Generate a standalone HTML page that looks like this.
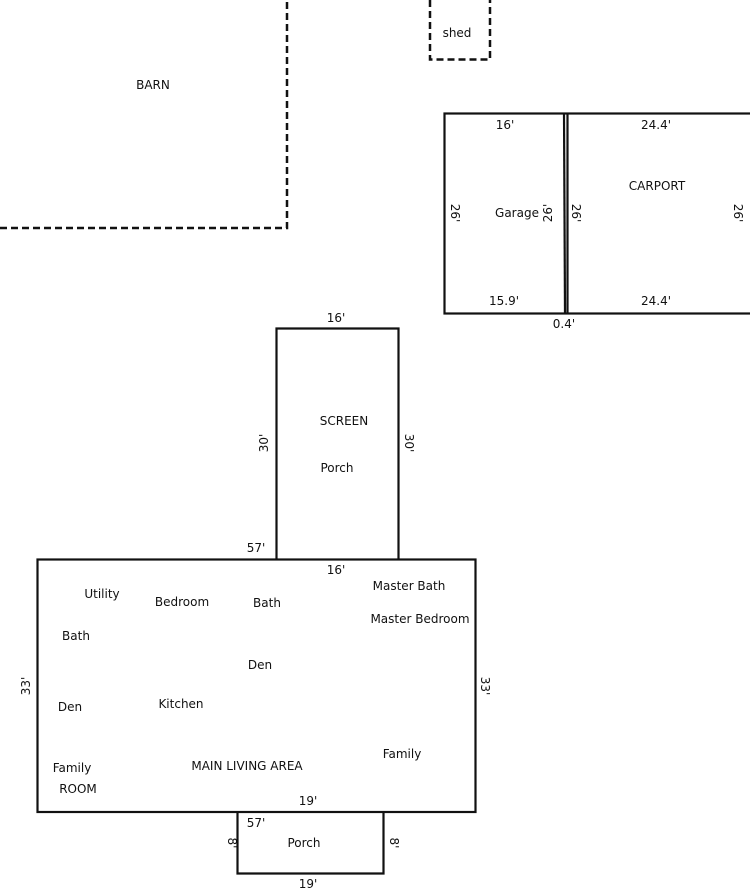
<!DOCTYPE html>
<html><head><meta charset="utf-8"><style>
html,body{margin:0;padding:0;background:#fff;}
svg{display:block;}
text{font-family:"DejaVu Sans","Liberation Sans",sans-serif;font-size:12px;fill:#111;}
</style></head><body>
<svg width="750" height="889" viewBox="0 0 750 889" xmlns="http://www.w3.org/2000/svg">
<g fill="none" stroke="#111" stroke-width="2.5" stroke-dasharray="7,4">
<polyline points="0,228 287,228 287,0"/>
<polyline points="430,0 430,59.5 490,59.5 490,0"/>
</g>
<g fill="none" stroke="#111" stroke-width="2.2">
<rect x="444.5" y="113.5" width="320" height="200"/>
<line x1="564" y1="113" x2="565" y2="313"/>
<line x1="567.5" y1="113" x2="567.5" y2="313"/>
<polyline points="276.5,559 276.5,328.5 398.5,328.5 398.5,559"/>
<rect x="37.5" y="559.5" width="438" height="252.5"/>
<polyline points="237.5,812 237.5,873.5 383.5,873.5 383.5,812"/>
</g>
<text x="153" y="89" text-anchor="middle">BARN</text>
<text x="457" y="37" text-anchor="middle">shed</text>
<text x="505" y="129" text-anchor="middle">16'</text>
<text x="656" y="129" text-anchor="middle">24.4'</text>
<text x="657" y="190" text-anchor="middle">CARPORT</text>
<text x="517" y="217" text-anchor="middle">Garage</text>
<text x="504" y="305" text-anchor="middle">15.9'</text>
<text x="656" y="305" text-anchor="middle">24.4'</text>
<text x="564" y="328" text-anchor="middle">0.4'</text>
<text transform="translate(451,213) rotate(90)" text-anchor="middle">26'</text>
<text transform="translate(552,213) rotate(-90)" text-anchor="middle">26'</text>
<text transform="translate(572,213) rotate(90)" text-anchor="middle">26'</text>
<text transform="translate(734,213) rotate(90)" text-anchor="middle">26'</text>
<text x="336" y="322" text-anchor="middle">16'</text>
<text x="344" y="425" text-anchor="middle">SCREEN</text>
<text x="337" y="472" text-anchor="middle">Porch</text>
<text transform="translate(268,443) rotate(-90)" text-anchor="middle">30'</text>
<text transform="translate(405,443) rotate(90)" text-anchor="middle">30'</text>
<text x="256" y="552" text-anchor="middle">57'</text>
<text x="336" y="574" text-anchor="middle">16'</text>
<text x="102" y="598" text-anchor="middle">Utility</text>
<text x="182" y="606" text-anchor="middle">Bedroom</text>
<text x="267" y="607" text-anchor="middle">Bath</text>
<text x="409" y="590" text-anchor="middle">Master Bath</text>
<text x="420" y="623" text-anchor="middle">Master Bedroom</text>
<text x="76" y="640" text-anchor="middle">Bath</text>
<text x="260" y="669" text-anchor="middle">Den</text>
<text transform="translate(30,686) rotate(-90)" text-anchor="middle">33'</text>
<text transform="translate(481,686) rotate(90)" text-anchor="middle">33'</text>
<text x="70" y="711" text-anchor="middle">Den</text>
<text x="181" y="708" text-anchor="middle">Kitchen</text>
<text x="402" y="758" text-anchor="middle">Family</text>
<text x="247" y="770" text-anchor="middle">MAIN LIVING AREA</text>
<text x="72" y="772" text-anchor="middle">Family</text>
<text x="78" y="793" text-anchor="middle">ROOM</text>
<text x="308" y="805" text-anchor="middle">19'</text>
<text x="256" y="827" text-anchor="middle">57'</text>
<text x="304" y="847" text-anchor="middle">Porch</text>
<text transform="translate(228,843) rotate(90)" text-anchor="middle">8'</text>
<text transform="translate(390,843) rotate(90)" text-anchor="middle">8'</text>
<text x="308" y="888" text-anchor="middle">19'</text>
</svg>
</body></html>
